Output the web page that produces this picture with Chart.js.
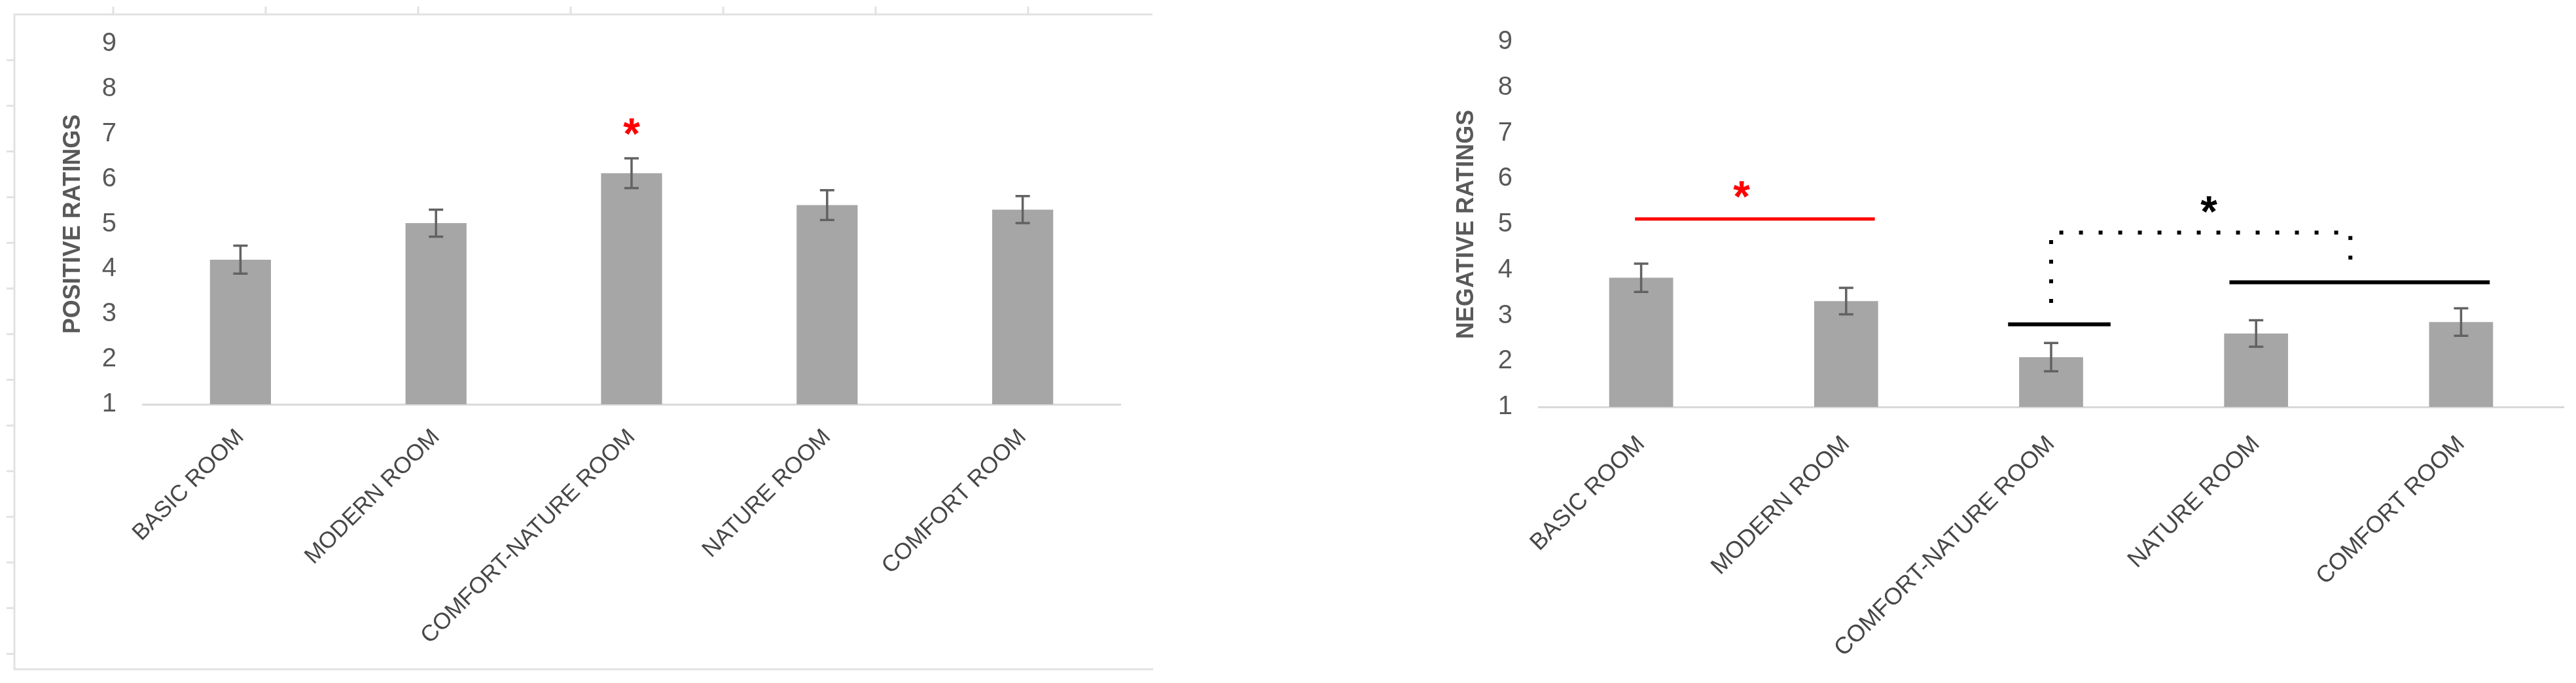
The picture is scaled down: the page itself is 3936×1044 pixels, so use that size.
<!DOCTYPE html>
<html>
<head>
<meta charset="utf-8">
<script src="https://cdn.jsdelivr.net/npm/chart.js@4.4.1/dist/chart.umd.min.js"></script>
<style>
  html, body { margin: 0; padding: 0; background: #fff; }
  body { width: 3936px; height: 1044px; position: relative; overflow: hidden; }
  .box { position: absolute; top: 0; height: 1044px; }
  #left { left: 0; width: 1900px; }
  #right { left: 2100px; width: 1836px; }
</style>
</head>
<body>
<div class="box" id="left"><canvas id="posChart"></canvas></div>
<div class="box" id="right"><canvas id="negChart"></canvas></div>
<script>
const rooms = ['BASIC ROOM', 'MODERN ROOM', 'COMFORT-NATURE ROOM', 'NATURE ROOM', 'COMFORT ROOM'];
const ratingTicks = [1, 2, 3, 4, 5, 6, 7, 8, 9];

const positiveMeans = [4.21, 5.02, 6.13, 5.42, 5.32];
const positiveErrors = [0.31, 0.30, 0.33, 0.33, 0.30];

const negativeMeans = [3.83, 3.32, 2.09, 2.61, 2.86];
const negativeErrors = [0.31, 0.29, 0.31, 0.29, 0.30];

// significance marks, given as (room index, rating)
const positiveStar = [2, 7.17];
const negativeRedLine = [-0.03, 1.14, 5.12];     // from, to, rating
const negativeRedStar = [0.49, 5.76];
const negativeBlackLines = [[1.79, 2.29, 2.81], [2.87, 4.14, 3.73]];
const negativeDotted = [[2.0, 3.28], [2.0, 4.82], [3.46, 4.82], [3.46, 4.03]];
const negativeBlackStar = [2.77, 5.44];

const tickGrey = '#595959';
const labelGrey = '#474747';
const barGrey = '#a6a6a6';
const axisGrey = '#d9d9d9';

const errorBars = {
  id: 'errorBars',
  afterDatasetsDraw(chart, args, opts) {
    const ctx = chart.ctx;
    const y = chart.scales.y;
    const bars = chart.getDatasetMeta(0).data;
    const means = chart.data.datasets[0].data;
    ctx.save();
    ctx.strokeStyle = '#626262';
    ctx.lineWidth = 3.5;
    bars.forEach((bar, i) => {
      const top = y.getPixelForValue(means[i] + opts.errors[i]);
      const bot = y.getPixelForValue(means[i] - opts.errors[i]);
      ctx.beginPath();
      ctx.moveTo(bar.x, top); ctx.lineTo(bar.x, bot);
      ctx.moveTo(bar.x - 11, top); ctx.lineTo(bar.x + 11, top);
      ctx.moveTo(bar.x - 11, bot); ctx.lineTo(bar.x + 11, bot);
      ctx.stroke();
    });
    ctx.restore();
  }
};

function drawStar(chart, pt, color) {
  const ctx = chart.ctx;
  const px = chart.scales.x.getPixelForValue(pt[0]);
  const py = chart.scales.y.getPixelForValue(pt[1]);
  ctx.save();
  ctx.font = 'bold 66px "Liberation Sans", Arial, sans-serif';
  ctx.fillStyle = color;
  ctx.textAlign = 'center';
  ctx.textBaseline = 'alphabetic';
  const m = ctx.measureText('*');
  ctx.fillText('*', px, py + (m.actualBoundingBoxAscent - m.actualBoundingBoxDescent) / 2);
  ctx.restore();
}

function drawSpan(chart, span, color, width) {
  const ctx = chart.ctx;
  const x = chart.scales.x, y = chart.scales.y;
  ctx.save();
  ctx.strokeStyle = color;
  ctx.lineWidth = width;
  ctx.beginPath();
  ctx.moveTo(x.getPixelForValue(span[0]), y.getPixelForValue(span[2]));
  ctx.lineTo(x.getPixelForValue(span[1]), y.getPixelForValue(span[2]));
  ctx.stroke();
  ctx.restore();
}

const positiveMarks = {
  id: 'positiveMarks',
  afterDraw(chart) {
    drawStar(chart, positiveStar, '#ff0000');
  }
};

const negativeMarks = {
  id: 'negativeMarks',
  afterDraw(chart) {
    const ctx = chart.ctx;
    const x = chart.scales.x, y = chart.scales.y;
    drawSpan(chart, negativeRedLine, '#ff0000', 5);
    drawStar(chart, negativeRedStar, '#ff0000');
    negativeBlackLines.forEach(s => drawSpan(chart, s, '#000000', 6));
    ctx.save();
    ctx.strokeStyle = '#000000';
    ctx.lineWidth = 6;
    ctx.setLineDash([6, 24]);
    ctx.beginPath();
    negativeDotted.forEach((p, i) => {
      const px = x.getPixelForValue(p[0]), py = y.getPixelForValue(p[1]);
      if (i === 0) ctx.moveTo(px, py); else ctx.lineTo(px, py);
    });
    ctx.stroke();
    ctx.restore();
    drawStar(chart, negativeBlackStar, '#000000');
  }
};

// light frame with ruler ticks around the left figure
const frame = {
  id: 'frame',
  beforeDraw(chart) {
    const ctx = chart.ctx;
    ctx.save();
    ctx.strokeStyle = '#e2e2e2';
    ctx.lineWidth = 3;
    ctx.beginPath();
    ctx.moveTo(1761, 22); ctx.lineTo(22, 22); ctx.lineTo(22, 1023); ctx.lineTo(1762, 1023);
    for (let k = 0; k < 7; k++) {
      const tx = 173 + k * 233;
      ctx.moveTo(tx, 10); ctx.lineTo(tx, 22);
    }
    for (let k = 0; k < 14; k++) {
      const ty = 92 + k * 69.8;
      ctx.moveTo(10, ty); ctx.lineTo(22, ty);
    }
    ctx.stroke();
    ctx.restore();
  }
};

function makeChart(canvasId, means, errors, title, geo, plugins) {
  return new Chart(document.getElementById(canvasId), {
    type: 'bar',
    data: {
      labels: rooms,
      datasets: [{
        data: means,
        backgroundColor: barGrey,
        borderWidth: 0,
        barPercentage: 0.312,
        categoryPercentage: 1
      }]
    },
    options: {
      responsive: true,
      maintainAspectRatio: false,
      animation: false,
      events: [],
      layout: { padding: { left: 0, right: geo.padRight, top: geo.padTop, bottom: 0 } },
      plugins: {
        legend: { display: false },
        tooltip: { enabled: false },
        errorBars: { errors: errors }
      },
      scales: {
        x: {
          grid: { display: false, drawTicks: false },
          border: { display: true, color: axisGrey, width: 3 },
          ticks: {
            autoSkip: false,
            minRotation: 45,
            maxRotation: 45,
            padding: geo.labelPad,
            color: labelGrey,
            font: { family: '"Liberation Sans", Arial, sans-serif', size: geo.labelSize }
          },
          afterFit: s => { s.height = geo.xHeight; }
        },
        y: {
          min: ratingTicks[0],
          max: ratingTicks[ratingTicks.length - 1],
          afterBuildTicks: s => { s.ticks = ratingTicks.map(v => ({ value: v })); },
          grid: { display: false, drawTicks: false },
          border: { display: false },
          ticks: {
            padding: 40,
            color: tickGrey,
            font: { family: '"Liberation Sans", Arial, sans-serif', size: 40 }
          },
          title: {
            display: true,
            text: title,
            color: tickGrey,
            padding: { top: geo.titlePad, bottom: 0 },
            font: { family: '"Liberation Sans", Arial, sans-serif', size: 36, weight: 'bold', lineHeight: 1 }
          },
          afterFit: s => { s.width = geo.yWidth; }
        }
      }
    },
    plugins: plugins
  });
}

makeChart('posChart', positiveMeans, positiveErrors, 'POSITIVE RATINGS',
  { padRight: 188, padTop: 67, xHeight: 426, yWidth: 218, titlePad: 94, labelPad: 30, labelSize: 35 },
  [frame, errorBars, positiveMarks]);

makeChart('negChart', negativeMeans, negativeErrors, 'NEGATIVE RATINGS',
  { padRight: 19, padTop: 44, xHeight: 422, yWidth: 251, titlePad: 123, labelPad: 36, labelSize: 36 },
  [errorBars, negativeMarks]);
</script>
</body>
</html>
